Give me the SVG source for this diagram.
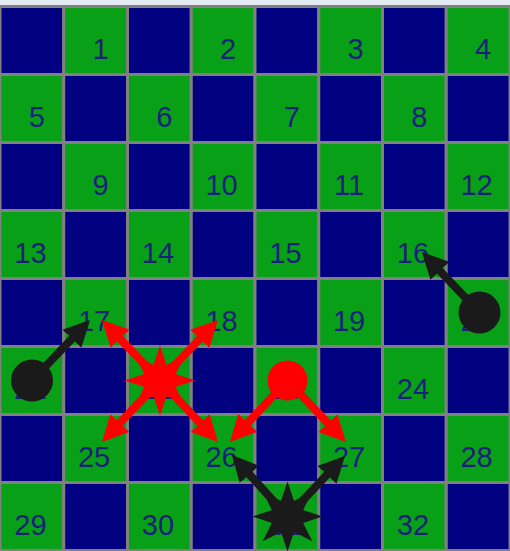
<svg xmlns="http://www.w3.org/2000/svg" xmlns:xlink="http://www.w3.org/1999/xlink" width="510" height="551" viewBox="0 0 510 551">
<style>
.b{fill:#000080;stroke:#808080;stroke-width:3}
.g{fill:#08a016;stroke:#808080;stroke-width:3}
.t{font-family:"Liberation Sans",Arial,sans-serif;font-size:29px;fill:#1a1f7c;text-anchor:middle}
.ab{stroke:#1a1a1a;stroke-width:8;fill:none;marker-end:url(#hb)}
.ar{stroke:#ff0000;stroke-width:8;fill:none;marker-end:url(#hr)}
</style>
<defs>
<marker id="hb" viewBox="0 0 26 26" refX="11" refY="13" markerWidth="26" markerHeight="26" markerUnits="userSpaceOnUse" orient="auto"><path d="M0,0 L26,13 L0,26 z" fill="#1a1a1a"/></marker>
<marker id="hr" viewBox="0 0 26 26" refX="11" refY="13" markerWidth="26" markerHeight="26" markerUnits="userSpaceOnUse" orient="auto"><path d="M0,0 L26,13 L0,26 z" fill="#ff0000"/></marker>
<g id="spikes">
<polygon points="-7,-14 0,-35 7,-14"/>
<polygon points="-7,-14 0,-35 7,-14" transform="rotate(45)"/>
<polygon points="-7,-14 0,-35 7,-14" transform="rotate(90)"/>
<polygon points="-7,-14 0,-35 7,-14" transform="rotate(135)"/>
<polygon points="-7,-14 0,-35 7,-14" transform="rotate(180)"/>
<polygon points="-7,-14 0,-35 7,-14" transform="rotate(225)"/>
<polygon points="-7,-14 0,-35 7,-14" transform="rotate(270)"/>
<polygon points="-7,-14 0,-35 7,-14" transform="rotate(315)"/>
</g>
</defs>
<rect x="0" y="0" width="510" height="6" fill="#e4eaf1"/>
<g id="board">
<rect class="b" x="0" y="6.5" width="63.75" height="68"/><rect class="g" x="63.75" y="6.5" width="63.75" height="68"/><rect class="b" x="127.5" y="6.5" width="63.75" height="68"/><rect class="g" x="191.25" y="6.5" width="63.75" height="68"/><rect class="b" x="255" y="6.5" width="63.75" height="68"/><rect class="g" x="318.75" y="6.5" width="63.75" height="68"/><rect class="b" x="382.5" y="6.5" width="63.75" height="68"/><rect class="g" x="446.25" y="6.5" width="63.75" height="68"/>
<rect class="g" x="0" y="74.5" width="63.75" height="68"/><rect class="b" x="63.75" y="74.5" width="63.75" height="68"/><rect class="g" x="127.5" y="74.5" width="63.75" height="68"/><rect class="b" x="191.25" y="74.5" width="63.75" height="68"/><rect class="g" x="255" y="74.5" width="63.75" height="68"/><rect class="b" x="318.75" y="74.5" width="63.75" height="68"/><rect class="g" x="382.5" y="74.5" width="63.75" height="68"/><rect class="b" x="446.25" y="74.5" width="63.75" height="68"/>
<rect class="b" x="0" y="142.5" width="63.75" height="68"/><rect class="g" x="63.75" y="142.5" width="63.75" height="68"/><rect class="b" x="127.5" y="142.5" width="63.75" height="68"/><rect class="g" x="191.25" y="142.5" width="63.75" height="68"/><rect class="b" x="255" y="142.5" width="63.75" height="68"/><rect class="g" x="318.75" y="142.5" width="63.75" height="68"/><rect class="b" x="382.5" y="142.5" width="63.75" height="68"/><rect class="g" x="446.25" y="142.5" width="63.75" height="68"/>
<rect class="g" x="0" y="210.5" width="63.75" height="68"/><rect class="b" x="63.75" y="210.5" width="63.75" height="68"/><rect class="g" x="127.5" y="210.5" width="63.75" height="68"/><rect class="b" x="191.25" y="210.5" width="63.75" height="68"/><rect class="g" x="255" y="210.5" width="63.75" height="68"/><rect class="b" x="318.75" y="210.5" width="63.75" height="68"/><rect class="g" x="382.5" y="210.5" width="63.75" height="68"/><rect class="b" x="446.25" y="210.5" width="63.75" height="68"/>
<rect class="b" x="0" y="278.5" width="63.75" height="68"/><rect class="g" x="63.75" y="278.5" width="63.75" height="68"/><rect class="b" x="127.5" y="278.5" width="63.75" height="68"/><rect class="g" x="191.25" y="278.5" width="63.75" height="68"/><rect class="b" x="255" y="278.5" width="63.75" height="68"/><rect class="g" x="318.75" y="278.5" width="63.75" height="68"/><rect class="b" x="382.5" y="278.5" width="63.75" height="68"/><rect class="g" x="446.25" y="278.5" width="63.75" height="68"/>
<rect class="g" x="0" y="346.5" width="63.75" height="68"/><rect class="b" x="63.75" y="346.5" width="63.75" height="68"/><rect class="g" x="127.5" y="346.5" width="63.75" height="68"/><rect class="b" x="191.25" y="346.5" width="63.75" height="68"/><rect class="g" x="255" y="346.5" width="63.75" height="68"/><rect class="b" x="318.75" y="346.5" width="63.75" height="68"/><rect class="g" x="382.5" y="346.5" width="63.75" height="68"/><rect class="b" x="446.25" y="346.5" width="63.75" height="68"/>
<rect class="b" x="0" y="414.5" width="63.75" height="68"/><rect class="g" x="63.75" y="414.5" width="63.75" height="68"/><rect class="b" x="127.5" y="414.5" width="63.75" height="68"/><rect class="g" x="191.25" y="414.5" width="63.75" height="68"/><rect class="b" x="255" y="414.5" width="63.75" height="68"/><rect class="g" x="318.75" y="414.5" width="63.75" height="68"/><rect class="b" x="382.5" y="414.5" width="63.75" height="68"/><rect class="g" x="446.25" y="414.5" width="63.75" height="68"/>
<rect class="g" x="0" y="482.5" width="63.75" height="68"/><rect class="b" x="63.75" y="482.5" width="63.75" height="68"/><rect class="g" x="127.5" y="482.5" width="63.75" height="68"/><rect class="b" x="191.25" y="482.5" width="63.75" height="68"/><rect class="g" x="255" y="482.5" width="63.75" height="68"/><rect class="b" x="318.75" y="482.5" width="63.75" height="68"/><rect class="g" x="382.5" y="482.5" width="63.75" height="68"/><rect class="b" x="446.25" y="482.5" width="63.75" height="68"/>
</g>
<g id="labels">
<text class="t" x="100.6" y="59">1</text><text class="t" x="228.1" y="59">2</text><text class="t" x="355.6" y="59">3</text><text class="t" x="483.1" y="59">4</text>
<text class="t" x="36.9" y="127">5</text><text class="t" x="164.4" y="127">6</text><text class="t" x="291.9" y="127">7</text><text class="t" x="419.4" y="127">8</text>
<text class="t" x="100.6" y="195">9</text><text class="t" x="221.6" y="195">10</text><text class="t" x="349.1" y="195">11</text><text class="t" x="476.6" y="195">12</text>
<text class="t" x="30.4" y="263">13</text><text class="t" x="157.9" y="263">14</text><text class="t" x="285.4" y="263">15</text><text class="t" x="412.9" y="263">16</text>
<text class="t" x="94.1" y="331">17</text><text class="t" x="221.6" y="331">18</text><text class="t" x="349.1" y="331">19</text><text class="t" x="476.6" y="331">20</text>
<text class="t" x="30.4" y="399">21</text><text class="t" x="157.9" y="399">22</text><text class="t" x="285.4" y="399">23</text><text class="t" x="412.9" y="399">24</text>
<text class="t" x="94.1" y="467">25</text><text class="t" x="221.6" y="467">26</text><text class="t" x="349.1" y="467">27</text><text class="t" x="476.6" y="467">28</text>
<text class="t" x="30.4" y="535">29</text><text class="t" x="157.9" y="535">30</text><text class="t" x="285.4" y="535">31</text><text class="t" x="412.9" y="535">32</text>
</g>
<g id="black-man-21"><circle cx="32" cy="380.5" r="21" fill="#1a1a1a"/></g>
<g id="black-man-20"><circle cx="479.5" cy="312.5" r="21" fill="#1a1a1a"/></g>
<g id="red-king-22"><use xlink:href="#spikes" href="#spikes" transform="translate(160,380.5)" fill="#ff0000"/><circle cx="160" cy="380.5" r="17" fill="#ff0000"/></g>
<g id="red-man-23"><circle cx="287.5" cy="380.5" r="20" fill="#ff0000"/></g>
<g id="black-king-31"><use xlink:href="#spikes" href="#spikes" transform="translate(287.5,516.5)" fill="#1a1a1a"/><circle cx="287.5" cy="516.5" r="17" fill="#1a1a1a"/></g>
<g id="connectors">
<line class="ab" x1="32" y1="380.5" x2="79.6" y2="330.8"/>
<line class="ab" x1="479.5" y1="312.5" x2="432.3" y2="262.9"/>
<line class="ar" x1="160" y1="380.5" x2="112.4" y2="330.8"/>
<line class="ar" x1="160" y1="380.5" x2="207.6" y2="330.8"/>
<line class="ar" x1="160" y1="380.5" x2="112.3" y2="431.1"/>
<line class="ar" x1="160" y1="380.5" x2="207.7" y2="431.1"/>
<line class="ar" x1="287.5" y1="380.5" x2="240.2" y2="431"/>
<line class="ar" x1="287.5" y1="380.5" x2="335.6" y2="431.2"/>
<line class="ab" x1="287.5" y1="516.5" x2="242" y2="466.2"/>
<line class="ab" x1="287.5" y1="516.5" x2="334.6" y2="466.8"/>
</g>
</svg>
